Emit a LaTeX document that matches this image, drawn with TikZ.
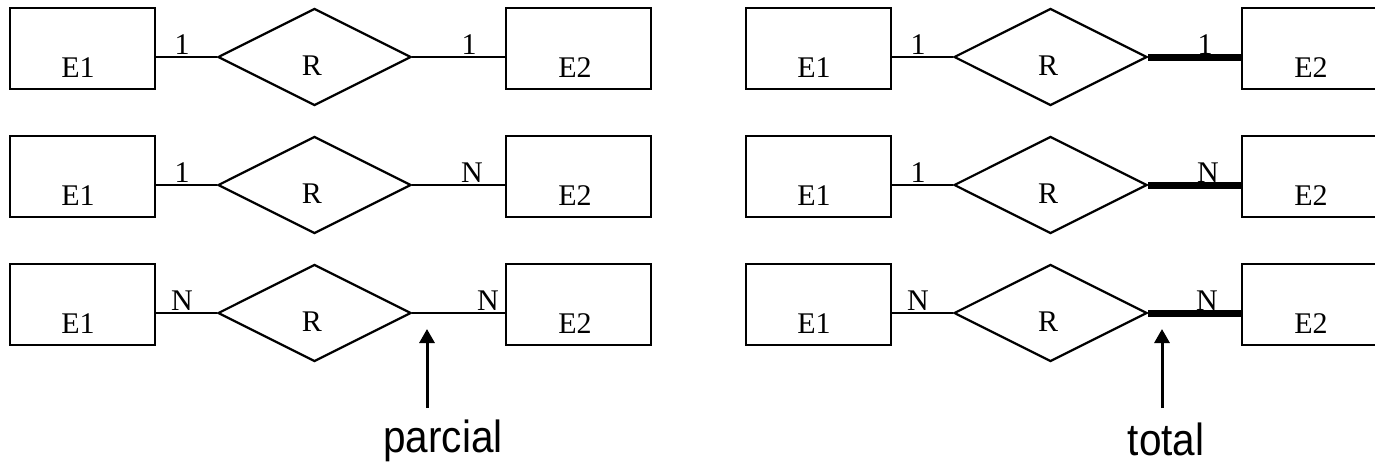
\documentclass[tikz,border=0pt]{standalone}
\usepackage{fontspec}
\setmainfont{Liberation Serif}
\newfontfamily\annfont[FakeStretch=0.9]{Liberation Sans}
\usetikzlibrary{shapes.geometric,arrows.meta,calc}
% #1 prefix, #2 x offset, #3 line y, #4 left label, #5 right label, #6 x of right label, #7 style of right connector
\newcommand\ERrow[7]{%
  \node[ent] (#1a) at (#2+82.5,#3-8.5) {};
  \node[txt] (#1at) at (#2+78,#3+20) {E1};
  \node[rel] (#1r) at (#2+314.5,#3) {};
  \node[txt] (#1rt) at (#2+312,#3+18) {R};
  \node[ent] (#1b) at (#2+578.5,#3-8.5) {};
  \node[txt] (#1bt) at (#2+575,#3+20) {E2};
  \draw[conn] (#1r.west -| #1a.east) -- (#1r.west);
  \draw[#7] (#1r.east) -- (#1r.east -| #1b.west);
  \node[txt] (#1l) at (#2+182,#3-2.5) {#4};
  \node[txt] (#1m) at (#6,#3-2.5) {#5};
}
\begin{document}
\begin{tikzpicture}[x=1pt,y=-1pt,
  ent/.style={draw,rectangle,line width=2.2pt,minimum width=145pt,minimum height=81pt,inner sep=0pt},
  rel/.style={draw,diamond,line width=2.2pt,minimum width=193pt,minimum height=97pt,inner sep=0pt},
  conn/.style={line width=2.2pt},
  tot/.style={line width=7pt},
  txt/.style={font=\fontsize{30}{33}\selectfont,anchor=base,inner sep=0pt},
  ann/.style={font=\annfont\fontsize{45}{50}\selectfont,anchor=base,inner sep=0pt},
  arr/.style={line width=3pt,-{Triangle[length=14pt,width=15pt]}}]
\useasboundingbox (0,0) rectangle (1375,463);
\clip (0,0) rectangle (1375,463);
% left panel (partial participation)
\ERrow{la}{0}{57}{1}{1}{469}{conn}
\ERrow{lb}{0}{185}{1}{N}{472}{conn}
\ERrow{lc}{0}{313}{N}{N}{488}{conn}
% right panel (total participation)
\ERrow{ra}{736}{57}{1}{1}{1205}{tot}
\ERrow{rb}{736}{185}{1}{N}{1208}{tot}
\ERrow{rc}{736}{313}{N}{N}{1207}{tot}
% annotations
\coordinate (ptip) at (427,329);
\coordinate (ptail) at (427,408);
\node[ann] (parc) at (443,452) {parcial};
\draw[arr] (ptail) -- (ptip);
\coordinate (ttip) at (1162,329);
\coordinate (ttail) at (1162,408);
\node[ann] (totl) at (1166,455) {total};
\draw[arr] (ttail) -- (ttip);
\end{tikzpicture}
\end{document}
